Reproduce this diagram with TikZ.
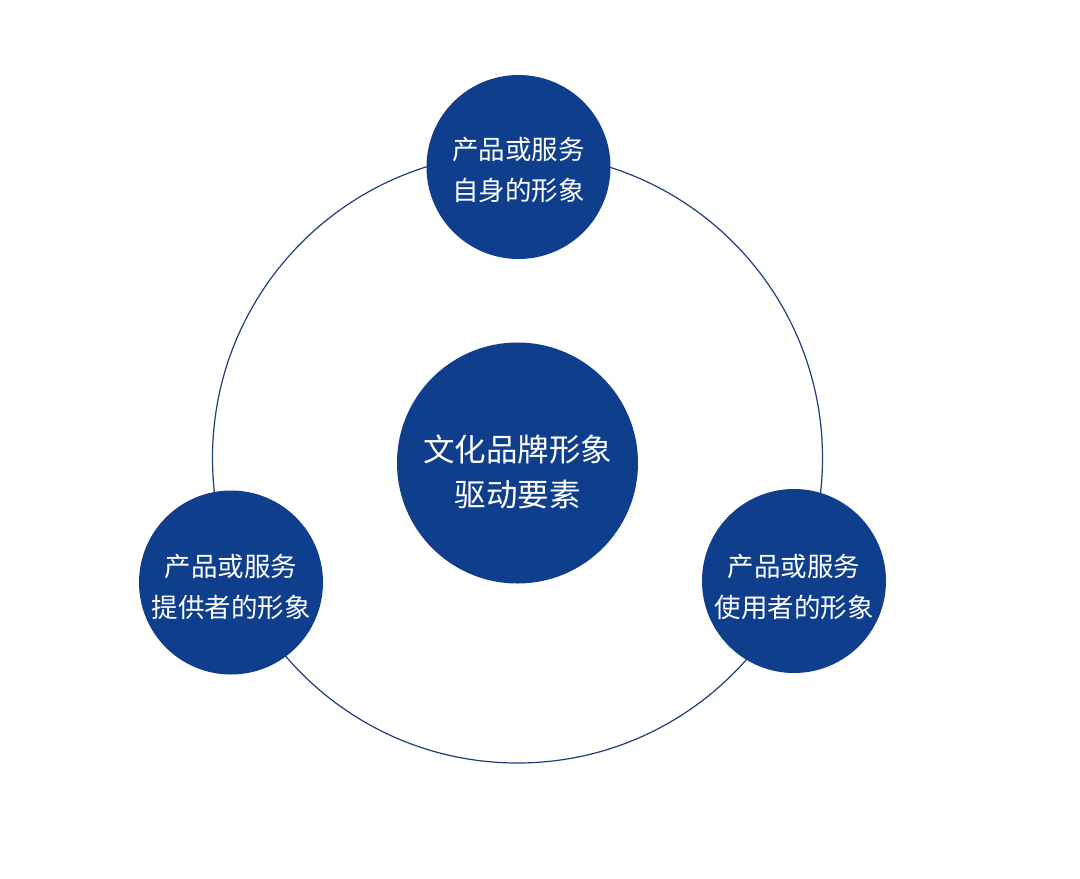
\documentclass[tikz,border=0pt]{standalone}
\usepackage{fontspec}
\newfontfamily\cjk{Noto Sans CJK SC}
\definecolor{brandblue}{RGB}{15,62,140}
\definecolor{ringblue}{RGB}{30,62,120}
\begin{document}
\begin{tikzpicture}[x=1pt,y=-1pt,
  disc/.style={circle,fill=brandblue,draw=none,inner sep=0pt},
  small/.style={disc,minimum size=184pt},
  big/.style={disc,minimum size=241pt},
  txts/.style={text=white,align=center,font=\cjk\fontsize{26.5}{41}\selectfont,inner sep=0pt},
  txtb/.style={text=white,align=center,font=\cjk\fontsize{31.5}{45}\selectfont,inner sep=0pt},
  ring/.style={draw=ringblue,line width=1.2pt}
]
\useasboundingbox[fill=white] (0,0) rectangle (1080,879);
\coordinate (o) at (517.5,458);
\draw[ring] (o) circle[radius=305];
\node[small] (top) at (518.5,167) {};
\node[small] (left) at (231,582.5) {};
\node[small] (right) at (794,581) {};
\node[big] (mid) at (517.5,463) {};
\node[txts] (ttop) at ([yshift=-3pt]top) {产品或服务\\自身的形象};
\node[txts] (tleft) at ([yshift=-4.5pt]left) {产品或服务\\提供者的形象};
\node[txts] (tright) at ([yshift=-6pt]right) {产品或服务\\使用者的形象};
\node[txtb] (tmid) at ([yshift=-9pt]mid) {文化品牌形象\\驱动要素};
\end{tikzpicture}
\end{document}
